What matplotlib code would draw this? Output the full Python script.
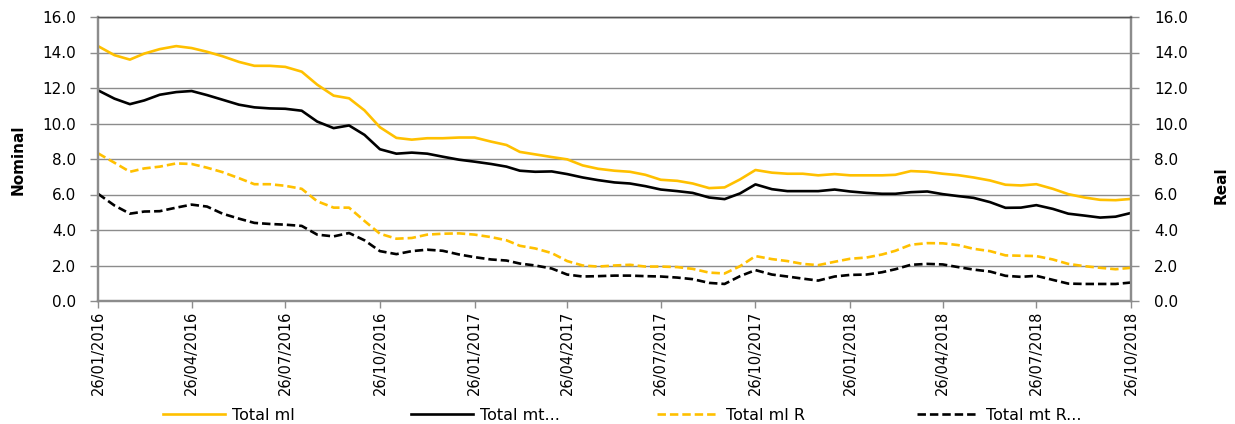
import datetime as dt
import matplotlib
matplotlib.use("Agg")
import matplotlib.pyplot as plt
import matplotlib.dates as mdates
from matplotlib.ticker import FormatStrFormatter
from matplotlib.lines import Line2D

# semi-monthly observation dates (11th and 26th), 26/01/2016 .. 26/10/2018
dates = []
for yr in (2016, 2017, 2018):
    for mo in range(1, 13):
        for d in (11, 26):
            t = dt.date(yr, mo, d)
            if dt.date(2016, 1, 26) <= t <= dt.date(2018, 10, 26):
                dates.append(t)

total_ml = [14.36, 13.85, 13.60, 13.94, 14.19, 14.36, 14.25, 14.04, 13.79, 13.47, 13.25, 13.25, 13.19, 12.92, 12.19, 11.57, 11.42,
            10.74, 9.79, 9.19, 9.09, 9.17, 9.17, 9.21, 9.21, 8.98, 8.79, 8.40, 8.26, 8.11, 7.98, 7.64, 7.45, 7.34,
            7.28, 7.11, 6.83, 6.77, 6.62, 6.36, 6.40, 6.85, 7.38, 7.23, 7.17, 7.17, 7.08, 7.15, 7.08, 7.08, 7.08,
            7.11, 7.32, 7.28, 7.17, 7.09, 6.96, 6.79, 6.55, 6.51, 6.58, 6.32, 6.02, 5.83, 5.70, 5.68, 5.75]
total_mt = [11.87, 11.40, 11.09, 11.30, 11.62, 11.77, 11.83, 11.60, 11.34, 11.06, 10.91, 10.85, 10.83, 10.72, 10.11, 9.74, 9.89,
            9.36, 8.55, 8.30, 8.36, 8.30, 8.13, 7.96, 7.85, 7.72, 7.57, 7.34, 7.28, 7.30, 7.15, 6.96, 6.81, 6.68,
            6.62, 6.47, 6.28, 6.19, 6.09, 5.83, 5.74, 6.06, 6.57, 6.30, 6.19, 6.19, 6.19, 6.28, 6.17, 6.09, 6.04,
            6.04, 6.13, 6.17, 6.02, 5.91, 5.81, 5.57, 5.25, 5.26, 5.40, 5.19, 4.92, 4.81, 4.70, 4.75, 4.96]
total_ml_r = [8.32, 7.79, 7.28, 7.47, 7.57, 7.75, 7.72, 7.51, 7.26, 6.92, 6.58, 6.58, 6.49, 6.32, 5.62, 5.26, 5.26,
              4.51, 3.79, 3.51, 3.55, 3.74, 3.79, 3.81, 3.74, 3.60, 3.42, 3.11, 2.96, 2.70, 2.25, 2.00, 1.94, 2.00,
              2.04, 1.94, 1.94, 1.91, 1.81, 1.60, 1.55, 1.96, 2.53, 2.36, 2.25, 2.09, 2.02, 2.21, 2.38, 2.45, 2.62,
              2.83, 3.17, 3.26, 3.25, 3.15, 2.94, 2.81, 2.57, 2.55, 2.53, 2.34, 2.09, 1.96, 1.87, 1.79, 1.87]
total_mt_r = [6.04, 5.38, 4.92, 5.04, 5.06, 5.26, 5.43, 5.32, 4.92, 4.64, 4.40, 4.34, 4.30, 4.23, 3.74, 3.64, 3.83,
              3.42, 2.81, 2.64, 2.81, 2.89, 2.83, 2.62, 2.47, 2.34, 2.28, 2.11, 2.00, 1.83, 1.49, 1.38, 1.40, 1.43,
              1.43, 1.40, 1.38, 1.32, 1.23, 1.02, 0.96, 1.40, 1.74, 1.49, 1.38, 1.26, 1.15, 1.38, 1.47, 1.49, 1.62,
              1.79, 2.04, 2.09, 2.06, 1.91, 1.77, 1.66, 1.42, 1.36, 1.42, 1.19, 0.98, 0.96, 0.96, 0.96, 1.04]

tick_dates = [dt.date(2016, 1, 26), dt.date(2016, 4, 26), dt.date(2016, 7, 26), dt.date(2016, 10, 26),
              dt.date(2017, 1, 26), dt.date(2017, 4, 26), dt.date(2017, 7, 26), dt.date(2017, 10, 26),
              dt.date(2018, 1, 26), dt.date(2018, 4, 26), dt.date(2018, 7, 26), dt.date(2018, 10, 26)]
y_ticks = [0, 2, 4, 6, 8, 10, 12, 14, 16]
labels = ["Total ml", "Total mt...", "Total ml R", "Total mt R..."]

YEL = "#FFC000"
BLK = "#000000"
GRID = "#8C8C8C"

fig = plt.figure(figsize=(12.35, 4.24), dpi=100)
ax = fig.add_axes([98 / 1235, 1 - 301 / 424, (1131 - 98) / 1235, (301 - 17) / 424])
ax2 = ax.twinx()

lw = 1.9
dash = (3.2, 1.5)
l1, = ax.plot(dates, total_ml, color=YEL, lw=lw, solid_joinstyle="round")
l2, = ax.plot(dates, total_mt, color=BLK, lw=lw, solid_joinstyle="round")
l3, = ax2.plot(dates, total_ml_r, color=YEL, lw=lw, linestyle=(0, dash))
l4, = ax2.plot(dates, total_mt_r, color=BLK, lw=lw, linestyle=(0, dash))

for a in (ax, ax2):
    a.set_ylim(0, 16)
    a.set_yticks(y_ticks)
    a.yaxis.set_major_formatter(FormatStrFormatter("%.1f"))
    a.set_xlim(dates[0], dates[-1])

ax.set_xticks(tick_dates)
ax.xaxis.set_major_formatter(mdates.DateFormatter("%d/%m/%Y"))
ax.tick_params(axis="x", rotation=90, labelsize=10.5, length=5, width=1, color=GRID, pad=2)
ax.tick_params(axis="y", labelsize=11, length=5.8, width=1, color=GRID, pad=10)
ax2.tick_params(axis="y", labelsize=11, length=5.8, width=1, color=GRID, pad=11)

ax.grid(axis="y", color=GRID, lw=1)
ax.set_axisbelow(True)
for a in (ax, ax2):
    for s in ("left", "right", "bottom"):
        a.spines[s].set_color(GRID)
        a.spines[s].set_linewidth(1.6)
    a.spines["top"].set_color("#555555")
    a.spines["top"].set_linewidth(1.0)

fig.text(18 / 1235, 1 - 160 / 424, "Nominal", rotation=90, ha="center", va="center",
         fontsize=11, fontweight="bold")
fig.text(1221 / 1235, 1 - 185 / 424, "Real", rotation=90, ha="center", va="center",
         fontsize=11, fontweight="bold")

handles = [l1, l2, Line2D([], [], color=YEL, lw=lw, linestyle=(0, dash)),
           Line2D([], [], color=BLK, lw=lw, linestyle=(0, dash))]
starts = [163, 411, 657, 917]
for h, lab, x0 in zip(handles, labels, starts):
    fig.legend([h], [lab], loc="center left", bbox_to_anchor=(x0 / 1235, 1 - 415 / 424),
               frameon=False, fontsize=11.5, handlelength=3.9, handletextpad=0.4,
               borderpad=0, borderaxespad=0)

fig.savefig("out.png", dpi=100)
